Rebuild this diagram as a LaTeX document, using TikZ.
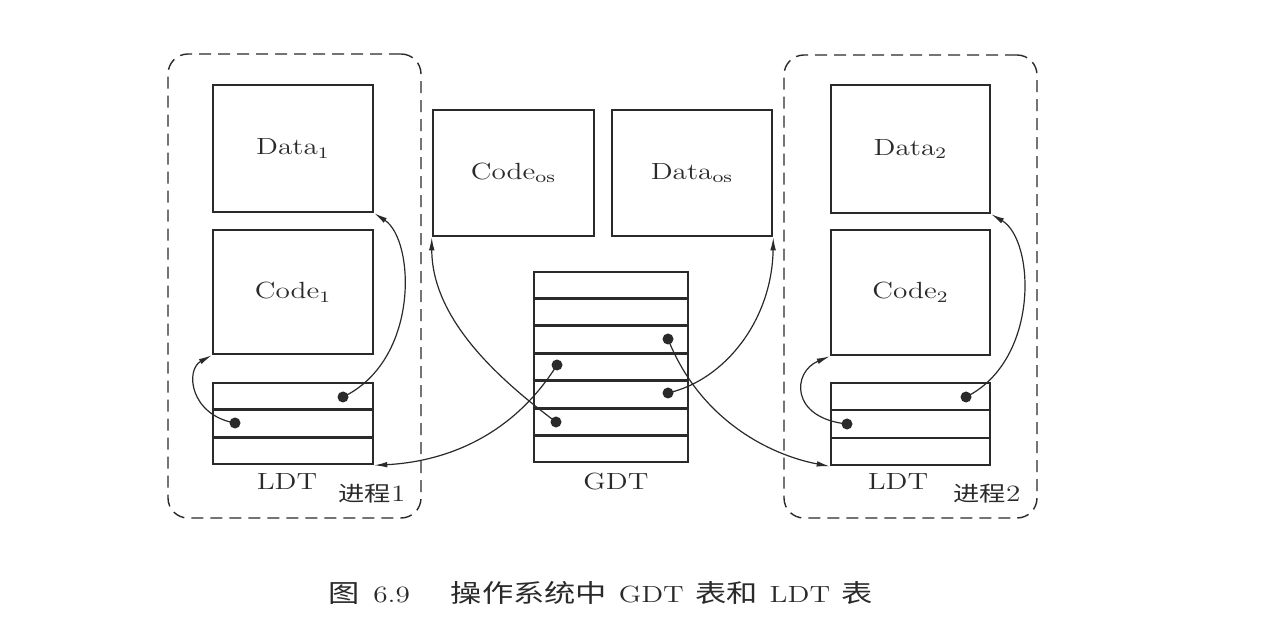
\documentclass[tikz,border=0pt]{standalone}
\usepackage{fontspec}
\newfontfamily\cjk{Noto Sans CJK SC}
\usetikzlibrary{arrows.meta,calc}
\definecolor{ink}{HTML}{2A2A2A}
\newcommand{\zh}[2][12.5]{{\cjk\fontsize{#1}{#1}\selectfont #2}}
\newcommand{\wide}[1]{\scalebox{1.25}[1]{#1}}
\begin{document}
\begin{tikzpicture}[x=0.5pt,y=-0.5pt,
  box/.style={draw=ink, line width=1.3pt, inner sep=0pt, text=ink, font=\fontsize{11.7}{14}\selectfont},
  procbox/.style={draw=ink, line width=0.7pt, dash pattern=on 6pt off 3.5pt, rounded corners=10pt, inner sep=0pt},
  rowline/.style={draw=ink, line width=1.3pt},
  dot/.style={circle, fill=ink, inner sep=0pt, minimum size=5.5pt},
  conn/.style={draw=ink, line width=0.6pt, -{Latex[length=6.5pt,width=2.8pt]}},
  lbl/.style={inner sep=0pt, text=ink, font=\fontsize{11.7}{14}\selectfont},
]
\fill[white] (0,0) rectangle (1272,619);
\useasboundingbox (0,0) rectangle (1272,619);

% process containers
\node[procbox, minimum width=126.5pt, minimum height=232pt] (p1) at (294.5,286) {};
\node[procbox, minimum width=126.5pt, minimum height=231.5pt] (p2) at (910.5,286.5) {};

% process 1
\node[box, minimum width=80pt, minimum height=63.5pt] (data1) at (293,148.5) {\wide{Data$_1$}};
\node[box, minimum width=80pt, minimum height=62pt] (code1) at (293,292) {\wide{Code$_1$}};
\node[box, minimum width=80pt, minimum height=40.5pt] (ldt1) at (293,423.5) {};

% process 2
\node[box, minimum width=79.5pt, minimum height=64pt] (data2) at (910.5,149) {\wide{Data$_2$}};
\node[box, minimum width=79.5pt, minimum height=62.5pt] (code2) at (910.5,292.5) {\wide{Code$_2$}};
\node[box, minimum width=79.5pt, minimum height=41pt] (ldt2) at (910.5,424) {};

% OS segments
\node[box, minimum width=80.5pt, minimum height=63pt] (codeos) at (513.5,173) {\wide{Code$_{\mathrm{os}}$}};
\node[box, minimum width=80pt, minimum height=63pt] (dataos) at (692,173) {\wide{Data$_{\mathrm{os}}$}};

% GDT
\node[box, minimum width=77pt, minimum height=95pt] (gdt) at (611,367) {};

% table rows
\foreach \t in {ldt1,ldt2}{
  \foreach \k in {1,2}{
    \draw[rowline] ($(\t.north west)!\k/3!(\t.south west)$) -- ($(\t.north east)!\k/3!(\t.south east)$);
  }
}
\foreach \k in {1,...,6}{
  \draw[rowline] ($(gdt.north west)!\k/7!(gdt.south west)$) -- ($(gdt.north east)!\k/7!(gdt.south east)$);
}

% labels
\node[lbl] (ldt1lbl) at (287,482) {\wide{LDT}};
\node[lbl] (p1lbl) at (372,494) {\wide{\zh[10.5]{进程}1}};
\node[lbl] (gdtlbl) at (616,482) {\wide{GDT}};
\node[lbl] (ldt2lbl) at (898,482) {\wide{LDT}};
\node[lbl] (p2lbl) at (987,494) {\wide{\zh[10.5]{进程}2}};
\node[lbl] (cap) at (601,593) {\wide{\zh{图}\hspace{0.45em}6.9\hspace{1.4em}\zh{操作系统中}\hspace{0.4em}GDT\hspace{0.4em}\zh{表和}\hspace{0.4em}LDT\hspace{0.4em}\zh{表}}};

% descriptor dots
\node[dot] (l1a) at (343,397) {};
\node[dot] (l1b) at (235,423) {};
\node[dot] (l2a) at (966,397) {};
\node[dot] (l2b) at (847,424) {};
\node[dot] (g1) at (557,365) {};
\node[dot] (g2) at (556,422) {};
\node[dot] (g3) at (668,339) {};
\node[dot] (g4) at (668,393) {};

% connectors
\draw[conn] (l1a.center) .. controls (420,360) and (415,240) .. (data1.south east);
\draw[conn] (l1b.center) .. controls (190,415) and (185,370) .. (code1.south west);
\draw[conn] (l2a.center) .. controls (1040,360) and (1035,240) .. (data2.south east);
\draw[conn] (l2b.center) .. controls (790,418) and (792,372) .. (code2.south west);
\draw[conn] (g2.center) .. controls (500,380) and (432,320) .. (codeos.south west);
\draw[conn] (g1.center) .. controls (510,440) and (440,462) .. (ldt1.south east);
\draw[conn] (g4.center) .. controls (725,380) and (772,320) .. (dataos.south east);
\draw[conn] (g3.center) .. controls (700,420) and (770,455) .. (ldt2.south west);
\end{tikzpicture}
\end{document}
